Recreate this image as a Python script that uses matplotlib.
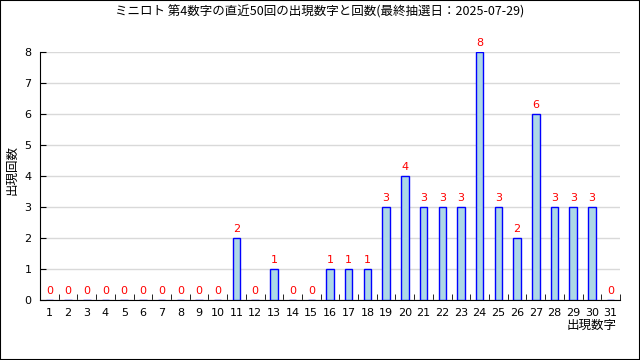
import matplotlib
matplotlib.use("Agg")
import matplotlib.pyplot as plt
from matplotlib.patches import Rectangle

plt.rcParams['font.family'] = ['Noto Sans CJK JP', 'DejaVu Sans']

numbers = list(range(1, 32))
counts = [0, 0, 0, 0, 0, 0, 0, 0, 0, 0,
          2, 0, 1, 0, 0, 1, 1, 1, 3, 4,
          3, 3, 3, 8, 3, 2, 6, 3, 3, 3, 0]
title = "ミニロト 第4数字の直近50回の出現数字と回数(最終抽選日：2025-07-29)"

fig = plt.figure(figsize=(6.4, 3.6), dpi=100)
ax = fig.add_axes([40 / 640, 60 / 360, 580 / 640, 248 / 360])

ax.bar(numbers, counts, width=0.4, color="#add8e6", edgecolor="blue", linewidth=1, zorder=3)
for n, c in zip(numbers, counts):
    ax.text(n, c + 0.12, str(c), ha="center", va="bottom", color="red", fontsize=8,
            family="DejaVu Sans", zorder=4, clip_on=False)

ax.set_xlim(0.5, 31.5)
ax.set_ylim(0, 8)
ax.set_xticks(numbers)
ax.set_xticks([n + 0.5 for n in numbers], minor=True)
ax.tick_params(axis="x", which="major", length=0, labelsize=8, pad=6)
ax.tick_params(axis="x", which="minor", direction="in", length=4, color="black")
ax.set_yticks(range(0, 9))
ax.tick_params(axis="y", direction="in", length=4, labelsize=8, pad=6)
for lab in ax.get_xticklabels() + ax.get_yticklabels():
    lab.set_family("DejaVu Sans")
ax.grid(axis="y", color="#d9d9d9", linewidth=1, zorder=0)
ax.spines["top"].set_visible(False)
ax.spines["right"].set_visible(False)

fig.text(12 / 640, 1 - 170 / 360, "出現回数", ha="center", va="center", rotation=90, fontsize=9)
fig.text(617 / 640, 1 - 325 / 360, "出現数字", ha="right", va="center", fontsize=9)
fig.text(0.5, 1 - 12 / 360, title, ha="center", va="center", fontsize=9)

fig.patches.append(Rectangle((0, 0), 1, 1, transform=fig.transFigure, fill=False,
                             edgecolor="black", linewidth=1.5))

fig.savefig("out.png", dpi=100)
